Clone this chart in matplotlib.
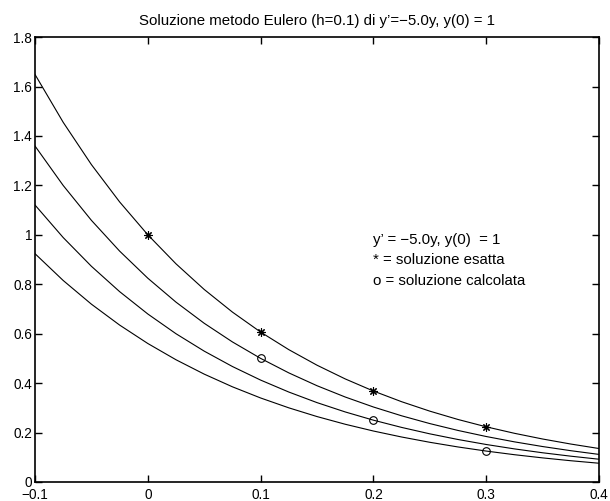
"""
Soluzione del metodo di Eulero (h=0.1) per y' = -5.0y, y(0) = 1.
Curve della famiglia y = c*exp(-5x) passanti per i punti calcolati,
valori letti dal grafico su una griglia di passo 0.025.
"""

import matplotlib
matplotlib.use("Agg")
import matplotlib.pyplot as plt

plt.rcParams["font.family"] = ["Liberation Sans", "DejaVu Sans"]

# griglia in x per le curve
x_grid = [-0.1, -0.075, -0.05, -0.025, 0.0, 0.025, 0.05, 0.075, 0.1, 0.125,
          0.15, 0.175, 0.2, 0.225, 0.25, 0.275, 0.3, 0.325, 0.35, 0.375, 0.4]

# curva esatta, y(0) = 1
curve_exact = [1.6487, 1.4550, 1.2840, 1.1331, 1.0000, 0.8825, 0.7788, 0.6873,
               0.6065, 0.5353, 0.4724, 0.4169, 0.3679, 0.3247, 0.2865, 0.2528,
               0.2231, 0.1969, 0.1738, 0.1534, 0.1353]

# curva per il punto (0.1, 0.5)
curve_1 = [1.3592, 1.1995, 1.0585, 0.9341, 0.8244, 0.7275, 0.6420, 0.5666,
           0.5000, 0.4413, 0.3894, 0.3437, 0.3033, 0.2677, 0.2362, 0.2084,
           0.1839, 0.1623, 0.1433, 0.1265, 0.1115]

# curva per il punto (0.2, 0.25)
curve_2 = [1.1205, 0.9888, 0.8726, 0.7701, 0.6796, 0.5997, 0.5293, 0.4671,
           0.4122, 0.3638, 0.3210, 0.2833, 0.2500, 0.2207, 0.1947, 0.1718,
           0.1516, 0.1338, 0.1181, 0.1043, 0.0920]

# curva per il punto (0.3, 0.125)
curve_3 = [0.9236, 0.8151, 0.7193, 0.6348, 0.5602, 0.4944, 0.4363, 0.3850,
           0.3398, 0.2999, 0.2646, 0.2335, 0.2061, 0.1819, 0.1605, 0.1416,
           0.1250, 0.1103, 0.0974, 0.0859, 0.0758]

# punti: soluzione esatta (*) e soluzione calcolata (o)
x_exact = [0.0, 0.1, 0.2, 0.3]
y_exact = [1.0, 0.6065, 0.3679, 0.2231]
x_euler = [0.1, 0.2, 0.3]
y_euler = [0.5, 0.25, 0.125]

x_ticks = [-0.1, 0, 0.1, 0.2, 0.3, 0.4]
x_tick_labels = ["\u22120.1", "0", "0.1", "0.2", "0.3", "0.4"]
y_ticks = [0, 0.2, 0.4, 0.6, 0.8, 1, 1.2, 1.4, 1.6, 1.8]
y_tick_labels = ["0", "0.2", "0.4", "0.6", "0.8", "1", "1.2", "1.4", "1.6", "1.8"]

legend_lines = [
    "y\u2019 = \u22125.0y, y(0)  = 1",
    "* = soluzione esatta",
    "o = soluzione calcolata",
]

fig = plt.figure(figsize=(6.1, 5.01), dpi=100)
ax = fig.add_axes([0.0574, 0.038, 0.9246, 0.888])

for curve in (curve_exact, curve_1, curve_2, curve_3):
    ax.plot(x_grid, curve, color="black", linewidth=0.8)

ax.plot(x_exact, y_exact, linestyle="none", marker=(8, 2, 0), markersize=6,
        markeredgecolor="black", markeredgewidth=0.8)
ax.plot(x_euler, y_euler, linestyle="none", marker="o", markersize=5.5,
        markerfacecolor="none", markeredgecolor="black", markeredgewidth=0.8)

ax.set_xlim(-0.1, 0.4)
ax.set_ylim(0, 1.8)
ax.set_xticks(x_ticks)
ax.set_xticklabels(x_tick_labels)
ax.set_yticks(y_ticks)
ax.set_yticklabels(y_tick_labels)
ax.tick_params(direction="in", top=True, right=True, length=5, width=1,
               labelsize=9.8, pad=2)
ax.tick_params(axis="x", pad=4)
for spine in ax.spines.values():
    spine.set_linewidth(1.2)

y_text = [0.98, 0.898, 0.815]
for line, yt in zip(legend_lines, y_text):
    ax.text(0.2, yt, line, fontsize=10.8, va="center", ha="left")

ax.set_title("Soluzione metodo Eulero (h=0.1) di y\u2019=\u22125.0y, y(0) = 1",
             fontsize=10.8, pad=9)

fig.savefig("out.png", dpi=100)
